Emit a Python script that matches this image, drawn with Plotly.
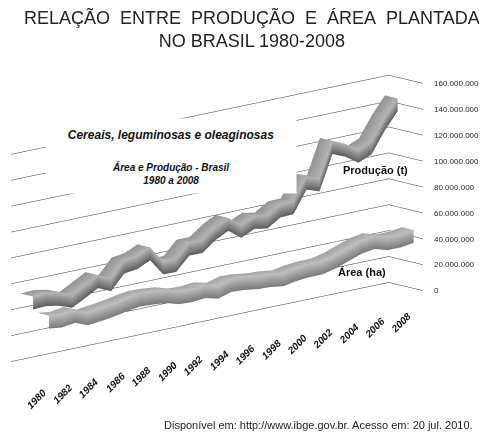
import plotly.graph_objects as go

# =========================
# Dados (IBGE)
# =========================
ANOS = list(range(1980, 2009))
PRODUCAO_T = [
    52.0, 52.5, 50.7, 47.0, 52.3, 58.0, 53.5, 65.0, 66.3, 71.0,
    58.0, 57.8, 68.3, 68.2, 76.0, 81.1, 73.6, 78.4, 76.6, 83.0,
    83.4, 100.3, 96.8, 123.6, 119.3, 112.6, 117.0, 133.0, 146.0,
]
AREA_HA = [
    40.2, 39.0, 40.5, 36.5, 37.6, 39.0, 41.0, 42.5, 42.0, 41.0,
    38.0, 37.5, 38.5, 36.0, 39.0, 38.5, 36.9, 36.5, 35.0, 36.9,
    37.8, 37.8, 40.2, 43.9, 47.4, 49.0, 46.0, 46.0, 47.4,
]
SERIES = ["Área (ha)", "Produção (t)"]
TICKS_ANOS = list(range(1980, 2009, 2))
TICKS_VALORES = list(range(0, 160_000_001, 20_000_000))

FONTE = "Liberation Sans, Arial, sans-serif"
FONTE_ESTREITA = "Liberation Sans Narrow, Arial Narrow, sans-serif"
W, H = 487, 446


def px(x, y):
    # posição na janela -> coordenadas paper (a página tem 8px de margem)
    return (x - 8) / W, 1 - (y - 8) / H


def fita(valores, y0, y1, escala, altura=10e6):
    # fita 3D: face frontal (y0) + face superior (y0 -> y1)
    z = [v * 1e6 for v in valores]
    n = len(z)
    return go.Surface(
        x=[ANOS, ANOS, ANOS],
        y=[[y0] * n, [y0] * n, [y1] * n],
        z=[[v - altura for v in z], z, z],
        surfacecolor=[[0.35] * n, [1.0] * n, [0.75] * n],
        cmin=0, cmax=1,
        colorscale=escala,
        showscale=False,
        lighting=dict(ambient=0.8, diffuse=0.8, specular=0.9, roughness=0.25, fresnel=0.2),
        lightposition=dict(x=-40000, y=-20000, z=50000),
        hoverinfo="skip",
    )


def fmt(v):
    return f"{v:,}".replace(",", ".")


fig = go.Figure()
fig.add_trace(fita(AREA_HA, 0.08, 0.42, [[0, "#6a6a6a"], [1, "#ececec"]]))
fig.add_trace(fita(PRODUCAO_T, 0.55, 0.92, [[0, "#3a3a3a"], [1, "#e0e0e0"]]))

eixo = dict(showbackground=False, showspikes=False, title="", ticks="",
            showticklabels=False, showline=False, zeroline=False)

anot_3d = []
for a in TICKS_ANOS:
    anot_3d.append(dict(
        x=a, y=0, z=0, text=f"<b><i>{a}</i></b>", showarrow=False,
        textangle=-45, xanchor="right", yanchor="top", xshift=0, yshift=-15,
        font=dict(family=FONTE, size=10, color="#111"),
    ))
for v in TICKS_VALORES:
    anot_3d.append(dict(
        x=2008.5, y=0, z=v, text=fmt(v), showarrow=False,
        xanchor="left", xshift=9,
        font=dict(family=FONTE_ESTREITA, size=8, color="#222"),
    ))

x_cx, y_cx = px(171, 118)
x_sub, y_sub = px(170, 174)
x_prod, y_prod = px(375, 170)
x_area, y_area = px(362, 272)
x_fonte, y_fonte = px(162, 425)

fig.update_layout(
    width=W,
    height=H,
    margin=dict(l=0, r=0, t=0, b=0),
    paper_bgcolor="white",
    font=dict(family=FONTE, color="#222"),
    scene=dict(
        domain=dict(x=[0, 0.891], y=[0.026, 1]),
        aspectmode="manual",
        aspectratio=dict(x=2.38, y=0.23, z=0.98),
        xaxis=dict(**eixo, range=[1979.5, 2008.5], showgrid=False),
        yaxis=dict(**eixo, range=[0, 1], showgrid=False),
        zaxis=dict(**eixo, range=[0, 160e6], tickvals=TICKS_VALORES,
                   showgrid=True, gridcolor="#333", gridwidth=1),
        camera=dict(eye=dict(x=-1.34, y=-1.49, z=0.45),
                    center=dict(x=0.027, y=-0.025, z=-0.012),
                    projection=dict(type="orthographic")),
        annotations=anot_3d,
    ),
    annotations=[
        dict(text="RELAÇÃO\u00a0 ENTRE\u00a0 PRODUÇÃO\u00a0 E\u00a0 ÁREA\u00a0 PLANTADA<br>NO BRASIL 1980-2008",
             x=0.5, y=1.006, xref="paper", yref="paper", xanchor="center", yanchor="top",
             showarrow=False, font=dict(size=18, color="#222")),
        dict(text="<b><i>Cereais, leguminosas e oleaginosas</i></b>",
             x=x_cx, y=y_cx, xref="paper", yref="paper",
             xanchor="center", yanchor="top", width=232, height=56, valign="top",
             bgcolor="white", borderpad=9, showarrow=False,
             font=dict(size=12, color="#111")),
        dict(text="<b><i>Área e Produção - Brasil<br>1980 a 2008</i></b>",
             x=x_sub, y=y_sub, xref="paper", yref="paper",
             xanchor="center", yanchor="middle", showarrow=False,
             font=dict(family=FONTE_ESTREITA, size=10, color="#111")),
        dict(text="<b>" + SERIES[1] + "</b>", x=x_prod, y=y_prod,
             xref="paper", yref="paper", xanchor="center", yanchor="middle", showarrow=False,
             font=dict(family=FONTE_ESTREITA, size=11, color="#111")),
        dict(text="<b>" + SERIES[0] + "</b>", x=x_area, y=y_area,
             xref="paper", yref="paper", xanchor="center", yanchor="middle", showarrow=False,
             font=dict(family=FONTE_ESTREITA, size=11, color="#111")),
        dict(text="Disponível em: http://www.ibge.gov.br. Acesso em: 20 jul. 2010.",
             x=x_fonte, y=y_fonte, xref="paper", yref="paper",
             xanchor="left", yanchor="middle",
             showarrow=False, font=dict(size=11, color="#222")),
    ],
)

fig.write_html("out.html", config={"displayModeBar": False})
